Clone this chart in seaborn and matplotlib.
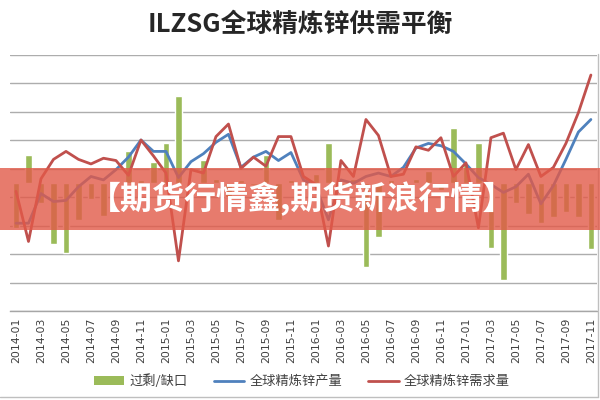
import matplotlib
matplotlib.use("Agg")
import matplotlib.pyplot as plt
from matplotlib.patches import Rectangle, Patch
from matplotlib.lines import Line2D
import numpy as np
import pandas as pd
import seaborn as sns

# ---------------- data ----------------
months = [f"{y}-{m:02d}" for y in range(2014, 2018) for m in range(1, 13)][:47]  # 2014-01 .. 2017-11

# 过剩/缺口 (surplus / deficit, kt) - secondary axis
balance = [-35, 22, -16, -48, -55, -29, -13, -26, -2, 25, 2, 16, 31, 68, -3,
           18, 3, -11, 2, -2, 22, -29, 2, -3, 7, 31, -4, 3, -66, -42,
           2, -3, 3, 9, -6, 43, 15, 31, -51, -76, -16, -24, -31, -27, -23,
           -27, -52]

# 全球精炼锌产量 (production, kt)
production = [1077, 1077, 1103, 1096, 1097, 1109, 1118, 1115, 1124, 1135, 1150, 1140,
              1140, 1117, 1131, 1138, 1148, 1155, 1126, 1135, 1140, 1132, 1139, 1115,
              1109, 1080, 1115, 1112, 1118, 1121, 1118, 1126, 1143, 1147, 1145, 1140,
              1129, 1117, 1111, 1104, 1109, 1120, 1094, 1110, 1133, 1157, 1168]

# 全球精炼锌需求量 (demand, kt)
demand = [1105, 1061, 1116, 1133, 1140, 1133, 1129, 1134, 1132, 1119, 1150, 1136,
          1121, 1044, 1124, 1121, 1153, 1164, 1125, 1135, 1127, 1153, 1153, 1118,
          1111, 1057, 1132, 1118, 1168, 1154, 1118, 1120, 1144, 1141, 1152, 1118,
          1130, 1073, 1152, 1156, 1124, 1146, 1118, 1126, 1147, 1174, 1207]

title = "ILZSG全球精炼锌供需平衡"
series_names = ["过剩/缺口", "全球精炼锌产量", "全球精炼锌需求量"]
banner_text = "【期货行情鑫,期货新浪行情】"

# ---------------- style ----------------
sns.set_theme(style="white")
plt.rcParams["font.family"] = ["Noto Sans CJK SC", "DejaVu Sans"]

GREEN = "#9BBB59"
BLUE = "#4F81BD"
RED = "#C0504D"

df = pd.DataFrame({
    "idx": np.arange(len(months)),
    "month": months,
    "balance": balance,
    "production": production,
    "demand": demand,
})

fig = plt.figure(figsize=(6, 4), dpi=100)
fig.patch.set_facecolor("white")
ax = fig.add_axes([0.01625, 0.2225, 0.979, 0.64125])

# bars (secondary scale, drawn on the lower axes so lines sit on top)
sns.barplot(data=df, x="idx", y="balance", color=GREEN, saturation=1,
            width=0.5, ax=ax, zorder=2)
ax.set_ylim(-100, 100)
ax.set_yticks(np.linspace(-100, 100, 10))
ax.yaxis.grid(True, color="#ADADAD", linewidth=1.0)
ax.set_axisbelow(True)
ax.tick_params(axis="y", which="both", left=False, right=False,
               labelleft=False, length=0)
ax.set_xlim(-0.5, len(months) - 0.5)
ax.set_xticks(np.arange(0, len(months), 2))
ax.set_xticklabels(months[::2], rotation=90, fontsize=7.8, color="#404040",
                   family=["DejaVu Sans"])
ax.tick_params(axis="x", bottom=False, length=0, pad=5)
ax.set_xlabel("")
ax.set_ylabel("")
for s in ["left", "right", "top"]:
    ax.spines[s].set_visible(False)
ax.spines["bottom"].set_color("#A6A6A6")
ax.spines["bottom"].set_linewidth(1.0)

# lines (primary scale)
ax2 = ax.twinx()
sns.lineplot(data=df, x="idx", y="production", color=BLUE, linewidth=2.0,
             ax=ax2, legend=False)
sns.lineplot(data=df, x="idx", y="demand", color=RED, linewidth=2.0,
             ax=ax2, legend=False)
ax2.set_ylim(1000, 1225)
ax2.set_xlim(-0.5, len(months) - 0.5)
ax2.set_yticks([])
ax2.tick_params(axis="both", which="both", length=0, labelright=False,
                labelleft=False)
ax2.set_ylabel("")
ax2.set_xlabel("")
for s in ax2.spines.values():
    s.set_visible(False)

# title
fig.text(0.5, 0.938, title, ha="center", va="center", fontsize=18.5,
         fontweight="bold", color="#262626")

# legend
handles = [Patch(facecolor=GREEN, edgecolor="none"),
           Line2D([], [], color=BLUE, linewidth=2),
           Line2D([], [], color=RED, linewidth=2)]
fig.legend(handles, series_names, loc="center", bbox_to_anchor=(0.503, 0.047),
           ncol=3, frameon=False, fontsize=9.5, handlelength=2.3,
           handleheight=0.6, columnspacing=2.0, handletextpad=0.4,
           labelcolor="#404040")

# chart frame remnants
fig.add_artist(Line2D([0.996, 0.996], [0.008, 0.865], transform=fig.transFigure,
                      color="#BFBFBF", linewidth=1.0))
fig.add_artist(Line2D([0.0, 0.996], [0.008, 0.008], transform=fig.transFigure,
                      color="#BFBFBF", linewidth=1.0))

# watermark banner
fig.add_artist(Rectangle((0, 0.425), 1, 0.155, transform=fig.transFigure,
                         facecolor="#E25A48", edgecolor="none", alpha=0.8,
                         zorder=10))
fig.text(0.503, 0.502, banner_text, ha="center", va="center", fontsize=23,
         fontweight="bold", color="white", zorder=11)

fig.savefig("out.png", dpi=100)
